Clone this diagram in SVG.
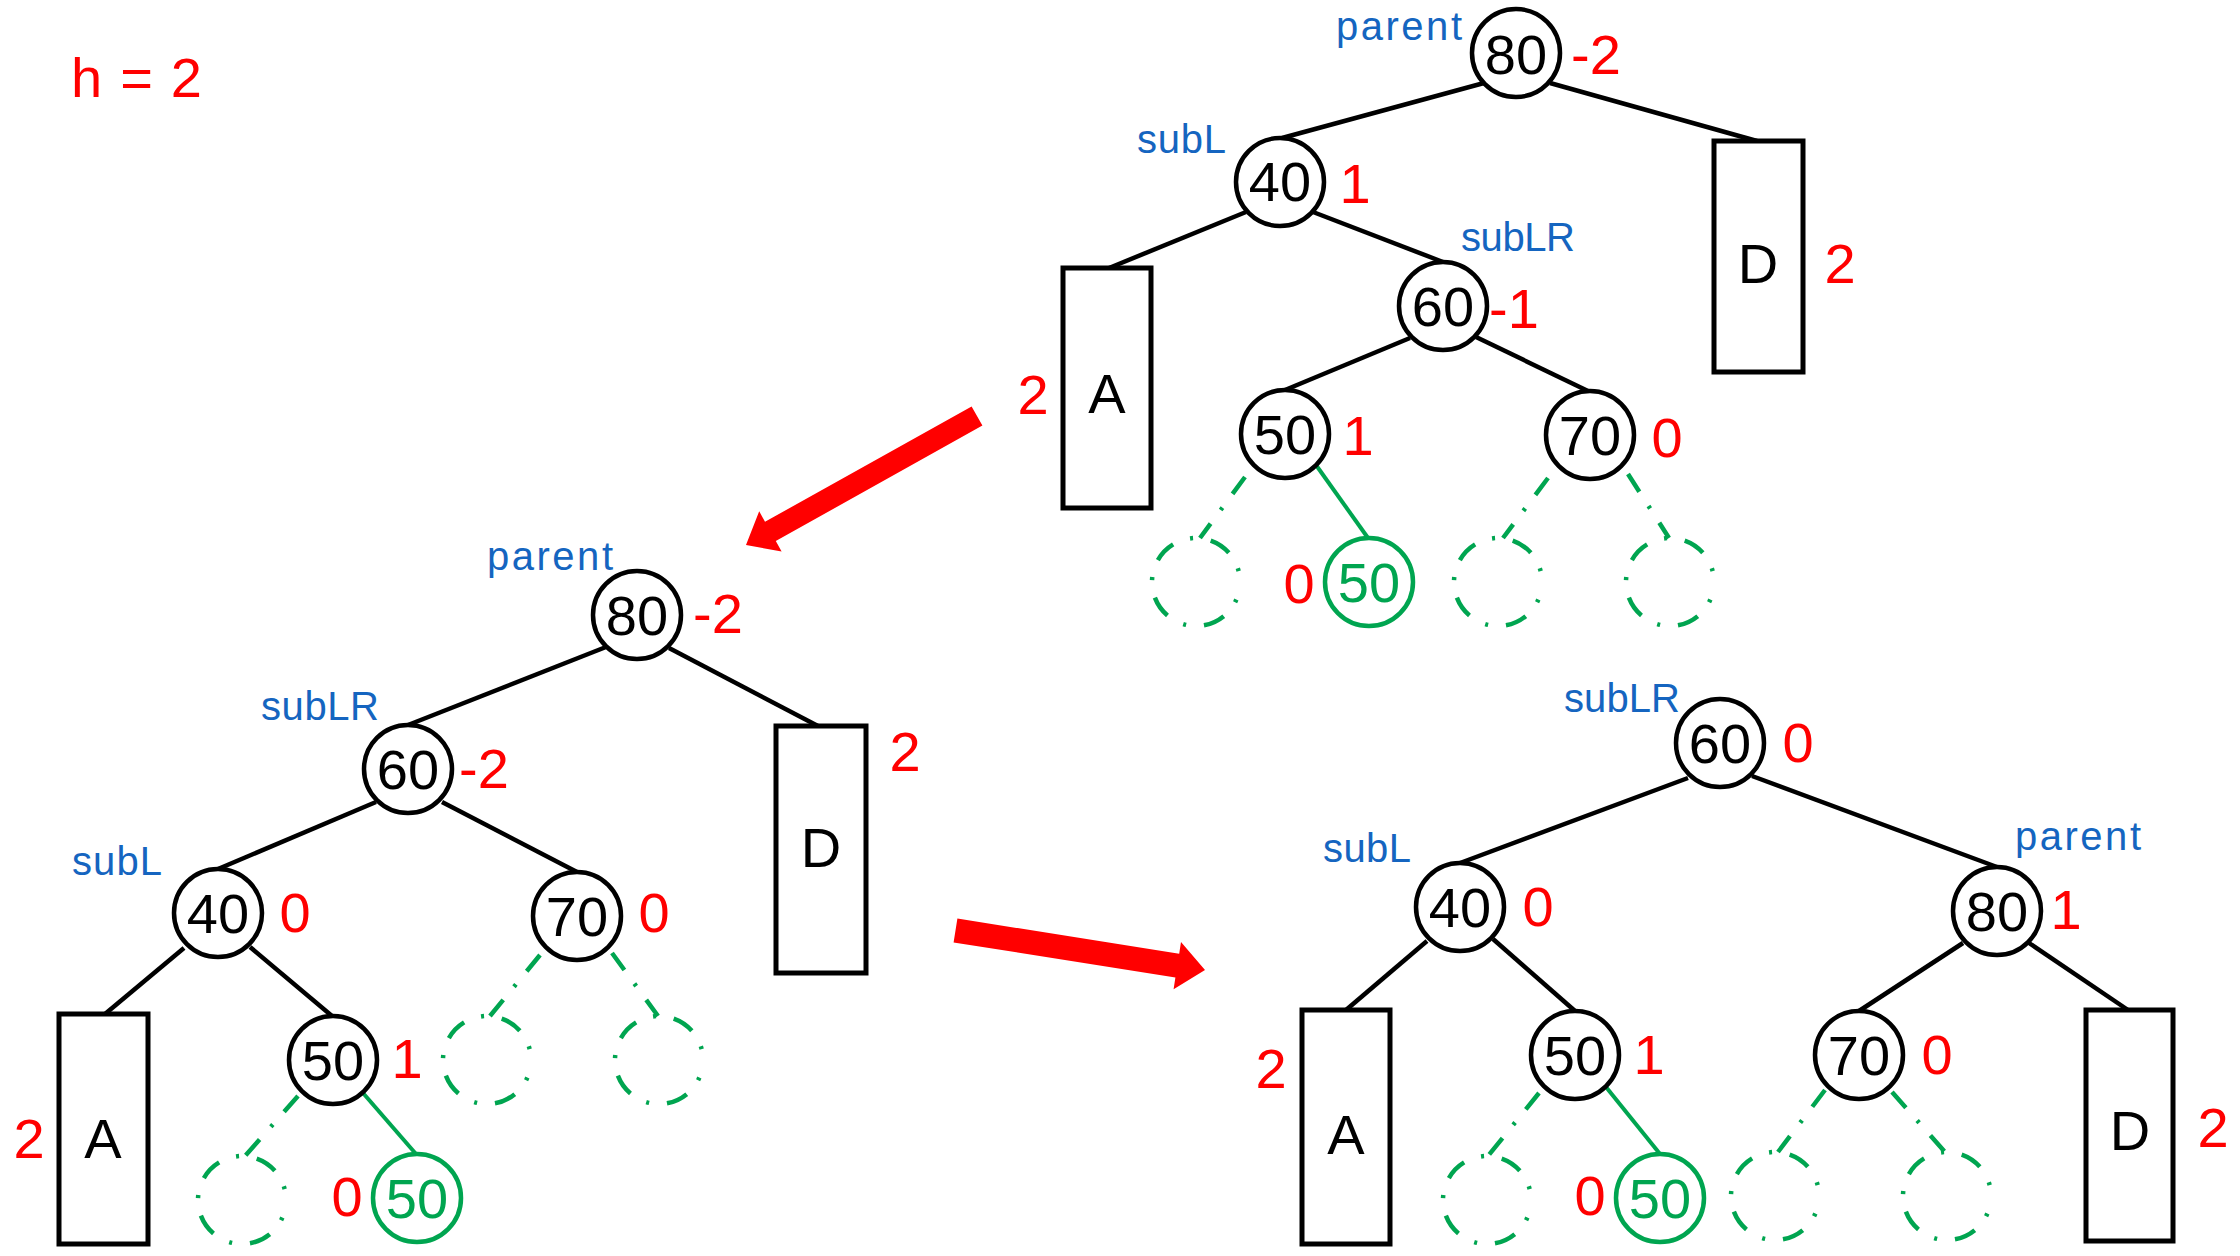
<svg xmlns="http://www.w3.org/2000/svg" width="2240" height="1256" viewBox="0 0 2240 1256">
<style>
text{font-family:"Liberation Sans",Arial,sans-serif}
.n circle{fill:#fff;stroke:#000;stroke-width:4.5}
.n text.v{font-size:56px;text-anchor:middle;fill:#000}
.g circle{fill:#fff;stroke:#00a550;stroke-width:4.5}
.g text.v{font-size:56px;text-anchor:middle;fill:#00a550}
.d circle{fill:none;stroke:#00a550;stroke-width:4.5;stroke-dasharray:22 18 3 18;stroke-dashoffset:22}
.b{fill:#fff;stroke:#000;stroke-width:5}
.bt{font-size:56px;text-anchor:middle;fill:#000}
.r{font-size:56px;text-anchor:middle;fill:#ff0000}
.l{font-size:40px;fill:#1565c0}
.e{stroke:#000;stroke-width:4.5;fill:none}
.ge{stroke:#00a550;stroke-width:4;fill:none}
.de{stroke:#00a550;stroke-width:4.5;fill:none;stroke-dasharray:21 17 3 17}
.arrow{fill:#ff0000}
</style>
<rect width="2240" height="1256" fill="#fff"/>
<text x="71" y="97" font-size="56" fill="#ff0000" textLength="131" lengthAdjust="spacing">h = 2</text>

<g id="connectors">
  <!-- top tree -->
  <line class="e" x1="1484" y1="83" x2="1282" y2="138"/>
  <line class="e" x1="1550" y1="83" x2="1757" y2="141"/>
  <line class="e" x1="1246" y1="212" x2="1109" y2="268"/>
  <line class="e" x1="1313" y1="212" x2="1443" y2="262"/>
  <line class="e" x1="1410" y1="338" x2="1285" y2="390"/>
  <line class="e" x1="1476" y1="337" x2="1588" y2="391"/>
  <line class="ge" x1="1316" y1="465" x2="1368" y2="538"/>
  <line class="de" x1="1245" y1="477" x2="1200" y2="538"/>
  <line class="de" x1="1548" y1="478" x2="1503" y2="538"/>
  <line class="de" x1="1628" y1="474" x2="1669" y2="538"/>
  <!-- middle tree -->
  <line class="e" x1="606" y1="647" x2="408" y2="725"/>
  <line class="e" x1="669" y1="648" x2="818" y2="726"/>
  <line class="e" x1="376" y1="802" x2="218" y2="869"/>
  <line class="e" x1="442" y1="802" x2="577" y2="872"/>
  <line class="e" x1="184" y1="948" x2="105" y2="1014"/>
  <line class="e" x1="250" y1="947" x2="332" y2="1016"/>
  <line class="ge" x1="363" y1="1093" x2="416" y2="1154"/>
  <line class="de" x1="298" y1="1096" x2="245" y2="1156"/>
  <line class="de" x1="540" y1="955" x2="490" y2="1016"/>
  <line class="de" x1="612" y1="953" x2="658" y2="1016"/>
  <!-- right tree -->
  <line class="e" x1="1688" y1="778" x2="1460" y2="863"/>
  <line class="e" x1="1752" y1="776" x2="1997" y2="867"/>
  <line class="e" x1="1427" y1="941" x2="1346" y2="1010"/>
  <line class="e" x1="1493" y1="939" x2="1575" y2="1011"/>
  <line class="e" x1="1963" y1="943" x2="1859" y2="1011"/>
  <line class="e" x1="2029" y1="943" x2="2128" y2="1010"/>
  <line class="ge" x1="1606" y1="1087" x2="1660" y2="1154"/>
  <line class="de" x1="1539" y1="1093" x2="1488" y2="1156"/>
  <line class="de" x1="1825" y1="1090" x2="1778" y2="1152"/>
  <line class="de" x1="1892" y1="1092" x2="1945" y2="1152"/>
  <!-- red transition arrows -->
  <polygon class="arrow" points="982.4,425.6 775.8,541 781.6,551.5 746,545 759.2,511.3 765,521.8 971.6,406.4"/>
  <polygon class="arrow" points="953.6,942.4 1175.4,977.5 1173.6,989.3 1205,970 1181,941.9 1179.2,953.7 957.4,918.6"/>
</g>

<!-- ===== top tree ===== -->
<g id="t1-n80" class="n"><circle cx="1516" cy="53" r="44"/><text class="v" x="1516" y="74">80</text>
  <text class="r" x="1596" y="74">-2</text><text class="l" x="1336" y="40" textLength="126">parent</text></g>
<g id="t1-n40" class="n"><circle cx="1280" cy="182" r="44"/><text class="v" x="1280" y="201">40</text>
  <text class="r" x="1355" y="203">1</text><text class="l" x="1137" y="153" textLength="89">subL</text></g>
<g id="t1-n60" class="n"><circle cx="1443" cy="306" r="44"/><text class="v" x="1443" y="326">60</text>
  <text class="r" x="1514" y="328">-1</text><text class="l" x="1461" y="251" textLength="114">subLR</text></g>
<g id="t1-n50" class="n"><circle cx="1285" cy="434" r="44"/><text class="v" x="1285" y="454">50</text>
  <text class="r" x="1358" y="455">1</text></g>
<g id="t1-n70" class="n"><circle cx="1590" cy="435" r="44"/><text class="v" x="1590" y="455">70</text>
  <text class="r" x="1667" y="457">0</text></g>
<g id="t1-A"><rect class="b" x="1063" y="268" width="88" height="240"/><text class="bt" x="1107" y="413">A</text>
  <text class="r" x="1033" y="414">2</text></g>
<g id="t1-D"><rect class="b" x="1714" y="141" width="89" height="231"/><text class="bt" x="1758" y="283">D</text>
  <text class="r" x="1840" y="283">2</text></g>
<g id="t1-new50" class="g"><circle cx="1369" cy="582" r="44"/><text class="v" x="1369" y="602">50</text>
  <text class="r" x="1299" y="603">0</text></g>
<g id="t1-e1" class="d"><circle cx="1196" cy="582" r="44"/></g>
<g id="t1-e2" class="d"><circle cx="1498" cy="582" r="44"/></g>
<g id="t1-e3" class="d"><circle cx="1670" cy="582" r="44"/></g>

<!-- ===== middle tree ===== -->
<g id="t2-n80" class="n"><circle cx="637" cy="615" r="44"/><text class="v" x="637" y="635">80</text>
  <text class="r" x="718" y="633">-2</text><text class="l" x="487" y="570" textLength="126">parent</text></g>
<g id="t2-n60" class="n"><circle cx="408" cy="769" r="44"/><text class="v" x="408" y="789">60</text>
  <text class="r" x="484" y="788">-2</text><text class="l" x="261" y="720" textLength="118">subLR</text></g>
<g id="t2-n40" class="n"><circle cx="218" cy="913" r="44"/><text class="v" x="218" y="933">40</text>
  <text class="r" x="295" y="932">0</text><text class="l" x="72" y="875" textLength="90">subL</text></g>
<g id="t2-n70" class="n"><circle cx="577" cy="916" r="44"/><text class="v" x="577" y="936">70</text>
  <text class="r" x="654" y="932">0</text></g>
<g id="t2-D"><rect class="b" x="776" y="726" width="90" height="247"/><text class="bt" x="821" y="867">D</text>
  <text class="r" x="905" y="771">2</text></g>
<g id="t2-A"><rect class="b" x="59" y="1014" width="89" height="230"/><text class="bt" x="103" y="1158">A</text>
  <text class="r" x="29" y="1158">2</text></g>
<g id="t2-n50" class="n"><circle cx="333" cy="1060" r="44"/><text class="v" x="333" y="1080">50</text>
  <text class="r" x="407" y="1078">1</text></g>
<g id="t2-new50" class="g"><circle cx="417" cy="1198" r="44"/><text class="v" x="417" y="1218">50</text>
  <text class="r" x="347" y="1216">0</text></g>
<g id="t2-e1" class="d"><circle cx="242" cy="1200" r="44"/></g>
<g id="t2-e2" class="d"><circle cx="487" cy="1060" r="44"/></g>
<g id="t2-e3" class="d"><circle cx="659" cy="1060" r="44"/></g>

<!-- ===== right tree ===== -->
<g id="t3-n60" class="n"><circle cx="1720" cy="743" r="44"/><text class="v" x="1720" y="763">60</text>
  <text class="r" x="1798" y="762">0</text><text class="l" x="1564" y="712" textLength="116">subLR</text></g>
<g id="t3-n40" class="n"><circle cx="1460" cy="907" r="44"/><text class="v" x="1460" y="927">40</text>
  <text class="r" x="1538" y="926">0</text><text class="l" x="1323" y="862" textLength="88">subL</text></g>
<g id="t3-n80" class="n"><circle cx="1997" cy="911" r="44"/><text class="v" x="1997" y="931">80</text>
  <text class="r" x="2066" y="929">1</text><text class="l" x="2015" y="850" textLength="126">parent</text></g>
<g id="t3-n50" class="n"><circle cx="1575" cy="1055" r="44"/><text class="v" x="1575" y="1075">50</text>
  <text class="r" x="1649" y="1074">1</text></g>
<g id="t3-n70" class="n"><circle cx="1859" cy="1055" r="44"/><text class="v" x="1859" y="1075">70</text>
  <text class="r" x="1937" y="1074">0</text></g>
<g id="t3-A"><rect class="b" x="1302" y="1010" width="88" height="234"/><text class="bt" x="1346" y="1154">A</text>
  <text class="r" x="1271" y="1088">2</text></g>
<g id="t3-D"><rect class="b" x="2086" y="1010" width="87" height="231"/><text class="bt" x="2130" y="1150">D</text>
  <text class="r" x="2213" y="1147">2</text></g>
<g id="t3-new50" class="g"><circle cx="1660" cy="1198" r="44"/><text class="v" x="1660" y="1218">50</text>
  <text class="r" x="1590" y="1215">0</text></g>
<g id="t3-e1" class="d"><circle cx="1487" cy="1200" r="44"/></g>
<g id="t3-e2" class="d"><circle cx="1775" cy="1196" r="44"/></g>
<g id="t3-e3" class="d"><circle cx="1947" cy="1196" r="44"/></g>
</svg>
